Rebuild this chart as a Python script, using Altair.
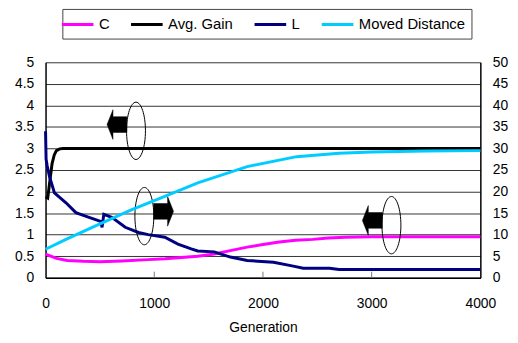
import altair as alt
import pandas as pd

FONT = "Liberation Sans"

series_names = ["C", "Avg. Gain", "L", "Moved Distance"]
series_colors = ["#FF00FF", "#000000", "#000080", "#00CCFF"]

# C (left axis)
c_gen = [0, 100, 200, 350, 500, 700, 945, 1100, 1250, 1400, 1552, 1700, 1855, 2000, 2150, 2300, 2460, 2600, 2760, 3000, 3218, 4000]
c_val = [0.55, 0.45, 0.40, 0.38, 0.37, 0.39, 0.42, 0.44, 0.47, 0.50, 0.55, 0.63, 0.71, 0.77, 0.83, 0.87, 0.89, 0.92, 0.94, 0.95, 0.95, 0.95]

# Avg. Gain (left axis)
gain_gen = [0, 20, 40, 60, 80, 100, 130, 160, 4000]
gain_val = [1.88, 1.85, 2.25, 2.65, 2.85, 2.95, 2.99, 3.0, 3.0]

# L (left axis)
l_gen = [0, 5, 15, 36, 82, 188, 279, 400, 506, 520, 536, 609, 733, 855, 945, 1097, 1218, 1340, 1400, 1552, 1700, 1855, 2097, 2279, 2370, 2612, 2700, 4000]
l_val = [3.4, 2.75, 2.6, 2.35, 1.97, 1.74, 1.51, 1.40, 1.31, 1.17, 1.47, 1.40, 1.17, 1.05, 1.0, 0.94, 0.78, 0.67, 0.62, 0.6, 0.48, 0.40, 0.36, 0.27, 0.22, 0.22, 0.19, 0.19]

# Moved Distance (right axis)
md_gen = [0, 188, 490, 794, 1097, 1400, 1855, 2309, 2700, 3000, 3500, 4000]
md_val = [6.6, 8.9, 12.4, 15.8, 18.9, 22.0, 25.8, 28.1, 28.9, 29.2, 29.4, 29.5]

x_ticks = [0, 1000, 2000, 3000, 4000]
inner_ticks = [1000, 2000, 3000]
left_ticks = [0, 0.5, 1, 1.5, 2, 2.5, 3, 3.5, 4, 4.5, 5]
right_ticks = [0, 5, 10, 15, 20, 25, 30, 35, 40, 45, 50]

# annotation anchors (generation, left-axis value)
ellipse_gen = [832, 909, 3182]
ellipse_val = [3.41, 1.43, 1.22]
larrow_gen = [657, 3006]
larrow_val = [3.555, 1.33]
rarrow_gen = [1086]
rarrow_val = [1.54]

left_df = pd.concat([
    pd.DataFrame({"gen": c_gen, "val": c_val, "series": "C"}),
    pd.DataFrame({"gen": gain_gen, "val": gain_val, "series": "Avg. Gain"}),
    pd.DataFrame({"gen": l_gen, "val": l_val, "series": "L"}),
], ignore_index=True)
right_df = pd.DataFrame({"gen": md_gen, "val": md_val, "series": "Moved Distance"})

color = alt.Color(
    "series:N",
    scale=alt.Scale(domain=series_names, range=series_colors),
    legend=alt.Legend(
        orient="none", legendX=17, legendY=-54, direction="horizontal", columns=4,
        title=None, symbolType="M -2 0 L 2 0", symbolSize=256, symbolStrokeWidth=3,
        labelFontSize=15, labelFont=FONT, labelColor="#000", strokeColor="#444",
        fillColor="white", padding=6, labelOffset=12, columnPadding=15,
    ),
    sort=series_names,
)

x_scale = alt.Scale(domain=[0, 4000], nice=False)
x_axis = alt.Axis(
    values=x_ticks, format="d", title="Generation", grid=False, ticks=False, tickSize=0,
    labelPadding=19, labelFlush=False, labelFontSize=14, labelFont=FONT,
    labelColor="#000", titleFontSize=14, titleFont=FONT, titleFontWeight="normal",
    titleColor="#000", titlePadding=10, domainColor="#000", domainWidth=1.5,
)
y_left_scale = alt.Scale(domain=[0, 5], nice=False, zero=True)
y_left_axis = alt.Axis(
    values=left_ticks, format="~g", title=None, grid=True, gridColor="#333",
    gridWidth=1, ticks=False, tickSize=0, labelPadding=12, labelFlush=False,
    labelFontSize=14, labelFont=FONT, labelColor="#000",
    domainColor="#000", domainWidth=1.5,
)

left_lines = alt.Chart(left_df).mark_line(strokeWidth=3).encode(
    x=alt.X("gen:Q", scale=x_scale, axis=x_axis),
    y=alt.Y("val:Q", scale=y_left_scale, axis=y_left_axis),
    color=color,
    order=alt.Order("gen:Q"),
)

ticks_df = pd.DataFrame({"gen": inner_ticks, "lo": [0.0] * 3, "hi": [0.14] * 3})
tick_rules = alt.Chart(ticks_df).mark_rule(color="#777", strokeWidth=1).encode(
    x=alt.X("gen:Q", scale=x_scale, axis=x_axis),
    y=alt.Y("lo:Q", scale=y_left_scale, axis=y_left_axis),
    y2="hi:Q",
)

ellipse_path = ("M 0 -1 C 0.182 -1 0.33 -0.552 0.33 0 C 0.33 0.552 0.182 1 0 1 "
                "C -0.182 1 -0.33 0.552 -0.33 0 C -0.33 -0.552 -0.182 -1 0 -1 Z")
larrow_path = "M -0.67 0 L -0.27 -1 L -0.27 -0.53 L 0.67 -0.53 L 0.67 0.53 L -0.27 0.53 L -0.27 1 Z"
rarrow_path = "M 0.67 0 L 0.27 -1 L 0.27 -0.53 L -0.67 -0.53 L -0.67 0.53 L 0.27 0.53 L 0.27 1 Z"

def ann(gens, vals, path, size, filled):
    df = pd.DataFrame({"gen": gens, "val": vals})
    if filled:
        mk = alt.Chart(df).mark_point(shape=path, size=size, filled=True, fill="#000",
                                      stroke="#000", strokeWidth=0.5, opacity=1)
    else:
        mk = alt.Chart(df).mark_point(shape=path, size=size, filled=False,
                                      stroke="#000", strokeWidth=1, opacity=1)
    return mk.encode(
        x=alt.X("gen:Q", scale=x_scale, axis=x_axis),
        y=alt.Y("val:Q", scale=y_left_scale, axis=y_left_axis),
    )

left_arrows = ann(larrow_gen, larrow_val, larrow_path, 900, True)
right_arrows = ann(rarrow_gen, rarrow_val, rarrow_path, 900, True)
ellipses = ann(ellipse_gen, ellipse_val, ellipse_path, 3364, False)

left_layer = alt.layer(left_lines, tick_rules, left_arrows, right_arrows, ellipses)

right_line = alt.Chart(right_df).mark_line(strokeWidth=3).encode(
    x=alt.X("gen:Q", scale=x_scale, axis=x_axis),
    y=alt.Y(
        "val:Q", scale=alt.Scale(domain=[0, 50], nice=False),
        axis=alt.Axis(
            orient="right", values=right_ticks, title=None, grid=False, ticks=False,
            tickSize=0, labelPadding=12, labelFlush=False, labelFontSize=14,
            labelFont=FONT, labelColor="#000", domainColor="#000", domainWidth=1.5,
        ),
    ),
    color=color,
)

chart = alt.layer(left_layer, right_line).resolve_scale(y="independent").properties(
    width=440, height=218,
    autosize=alt.AutoSizeParams(type="none"),
    padding={"left": 38, "top": 53, "right": 30, "bottom": 55},
).configure(font=FONT).configure_view(stroke=None)

chart.save("out.html", embed_options={"renderer": "svg", "actions": False})
